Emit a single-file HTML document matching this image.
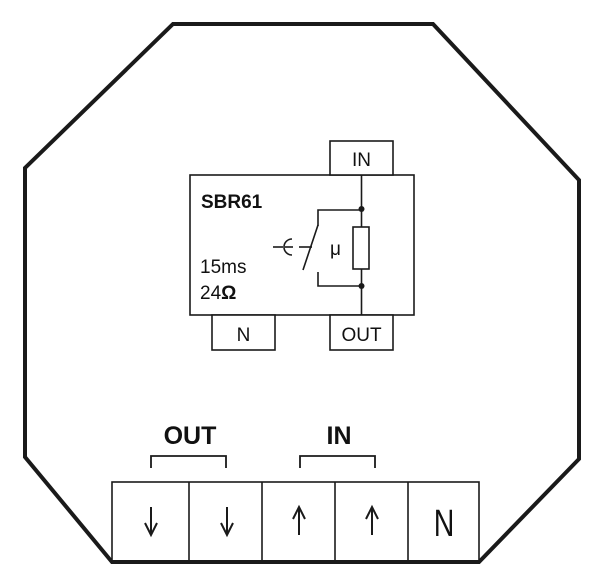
<!DOCTYPE html>
<html><head><style>
html,body{margin:0;padding:0;background:#fff;}
svg{display:block;}
text{font-family:"Liberation Sans",sans-serif;fill:#111;}
</style></head><body>
<svg width="600" height="586" viewBox="0 0 600 586" xmlns="http://www.w3.org/2000/svg">
<polygon points="173,24 433,24 579,180 579,459 479,562 112,562 25,457 25,168" fill="#fff" stroke="#1a1a1a" stroke-width="4" stroke-linejoin="miter"/>
<g fill="#fff" stroke="#1a1a1a" stroke-width="1.6">
<rect x="190" y="175" width="224" height="140"/>
<rect x="330" y="141" width="63" height="34"/>
<rect x="212" y="315" width="63" height="35"/>
<rect x="330" y="315" width="63" height="35"/>
</g>
<g stroke="#1a1a1a" stroke-width="1.6" fill="none">
<line x1="361.5" y1="175" x2="361.5" y2="227"/>
<line x1="361.5" y1="269" x2="361.5" y2="315"/>
<rect x="353" y="227" width="16" height="42" fill="#fff"/>
<polyline points="361.5,210 318,210 318,226"/>
<line x1="318" y1="225" x2="303" y2="270"/>
<polyline points="318,272 318,286 361.5,286"/>
<line x1="273" y1="247" x2="283" y2="247"/>
<path d="M292,239 A8,8 0 0 0 292,255"/>
<line x1="285" y1="247" x2="293" y2="247"/>
<line x1="299" y1="247" x2="312" y2="247"/>
</g>
<circle cx="361.5" cy="209" r="3" fill="#1a1a1a"/>
<circle cx="361.5" cy="286" r="3" fill="#1a1a1a"/>
<text x="201" y="208" font-size="19" font-weight="bold">SBR61</text>
<text x="200" y="273" font-size="19">15ms</text>
<text x="200" y="299" font-size="19">24<tspan font-weight="bold">Ω</tspan></text>
<text x="330" y="255" font-size="19">μ</text>
<text x="361.5" y="166" font-size="19" text-anchor="middle">IN</text>
<text x="243.5" y="341" font-size="19" text-anchor="middle">N</text>
<text x="361.5" y="341" font-size="19" text-anchor="middle">OUT</text>
<g fill="#fff" stroke="#1a1a1a" stroke-width="1.6">
<rect x="112" y="482" width="367" height="80"/>
</g>
<g stroke="#1a1a1a" stroke-width="1.6">
<line x1="189" y1="482" x2="189" y2="562"/>
<line x1="262" y1="482" x2="262" y2="562"/>
<line x1="335" y1="482" x2="335" y2="562"/>
<line x1="408" y1="482" x2="408" y2="562"/>
<line x1="112" y1="562" x2="479" y2="562" stroke-width="4"/>
</g>
<g stroke="#1a1a1a" stroke-width="1.8" fill="none">
<polyline points="151,468 151,456 226,456 226,468"/>
<polyline points="300,468 300,456 375,456 375,468"/>
</g>
<text x="190" y="444" font-size="25" font-weight="bold" text-anchor="middle">OUT</text>
<text x="339" y="444" font-size="25" font-weight="bold" text-anchor="middle">IN</text>
<g stroke="#1a1a1a" stroke-width="2" fill="none">
<line x1="151" y1="507" x2="151" y2="535"/>
<polyline points="145,523 151,535 157,523"/>
<line x1="227" y1="507" x2="227" y2="535"/>
<polyline points="221,523 227,535 233,523"/>
<line x1="299" y1="507" x2="299" y2="535"/>
<polyline points="293,519 299,507 305,519"/>
<line x1="372" y1="507" x2="372" y2="535"/>
<polyline points="366,519 372,507 378,519"/>
</g>
<text x="444" y="536" font-size="38" text-anchor="middle" transform="translate(444 536) scale(0.75 1) translate(-444 -536)">N</text>
</svg>
</body></html>
